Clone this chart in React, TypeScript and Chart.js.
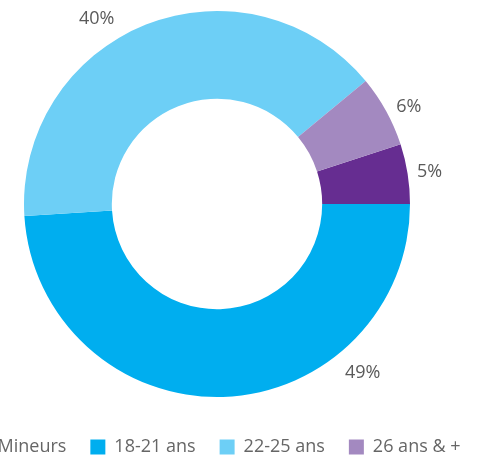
import React, { useEffect, useRef } from "react";
import { Chart, registerables } from "chart.js";

Chart.register(...registerables);

const categories = ["Mineurs", "18-21 ans", "22-25 ans", "26 ans & +"];
const values = [5, 49, 40, 6];
const colors = ["#662d91", "#00aeef", "#6dcff6", "#a389c0"];
// label placement tweaks (degrees shift from arc middle, px gap beyond outer edge)
const labelShiftDeg = [0.5, -39, -11.4, 2];
const labelGap = [22, 30, 28, 22];

const FONT = "'Open Sans', 'Noto Sans', sans-serif";

const pctLabels = {
  id: "pctLabels",
  afterDatasetsDraw(chart: any) {
    const meta = chart.getDatasetMeta(0);
    const ctx = chart.ctx;
    ctx.save();
    ctx.font = `18px ${FONT}`;
    ctx.fillStyle = "#5a5a5a";
    ctx.textAlign = "center";
    ctx.textBaseline = "middle";
    meta.data.forEach((arc: any, i: number) => {
      const p = arc.getProps(["x", "y", "startAngle", "endAngle", "outerRadius"], true);
      const mid = (p.startAngle + p.endAngle) / 2 + (labelShiftDeg[i] * Math.PI) / 180;
      const r = p.outerRadius + labelGap[i];
      ctx.fillText(values[i] + "%", p.x + Math.cos(mid) * r, p.y + Math.sin(mid) * r);
    });
    ctx.restore();
  },
};

export default function App() {
  const ref = useRef<HTMLCanvasElement>(null);
  useEffect(() => {
    if (!ref.current) return;
    const chart = new Chart(ref.current, {
      type: "doughnut",
      data: {
        labels: categories,
        datasets: [
          {
            data: values,
            backgroundColor: colors,
            borderWidth: 0,
            radius: 193,
            cutout: "54.5%",
            hoverOffset: 0,
          } as any,
        ],
      },
      options: {
        responsive: false,
        animation: false,
        rotation: 72,
        layout: { padding: 0 },
        plugins: {
          tooltip: { enabled: false },
          legend: {
            position: "bottom",
            labels: {
              boxWidth: 15,
              boxHeight: 15,
              padding: 24,
              color: "#666666",
              font: { size: 18, family: FONT },
            },
          },
        },
      } as any,
      plugins: [pctLabels],
    });
    return () => chart.destroy();
  }, []);
  return (
    <div
      style={{
        position: "fixed",
        left: 0,
        top: 0,
        width: 497,
        height: 458,
        overflow: "hidden",
        background: "#fff",
      }}
    >
      <canvas
        ref={ref}
        width={600}
        height={472}
        style={{ position: "absolute", left: -83, top: -6, width: 600, height: 472 }}
      />
    </div>
  );
}
